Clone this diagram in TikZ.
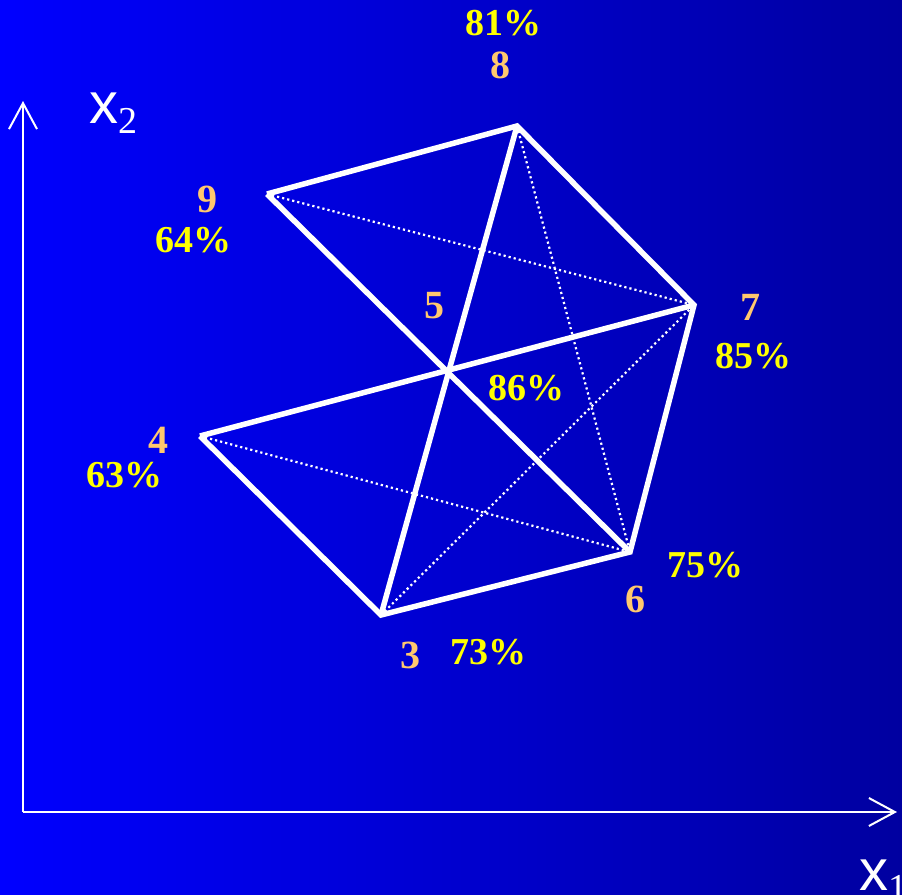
\documentclass[tikz,border=0pt]{standalone}
\usepackage{fontspec}
\setmainfont{Liberation Serif}
\setsansfont{Liberation Sans}
\usetikzlibrary{arrows.meta}
\definecolor{bgL}{RGB}{0,0,255}
\definecolor{bgM}{RGB}{0,0,225}
\definecolor{bgR}{RGB}{0,0,160}
\definecolor{numc}{RGB}{255,200,110}
\definecolor{pctc}{RGB}{255,255,0}
\tikzset{
  numlbl/.style={text=numc,font=\fontsize{40}{40}\selectfont\bfseries,anchor=base,inner sep=0pt},
  pctlbl/.style={text=pctc,font=\fontsize{38}{38}\selectfont\bfseries,anchor=base,inner sep=0pt},
  axislbl/.style={text=white,anchor=base west,inner sep=0pt},
  edge/.style={white,line width=5.5pt,line join=miter},
  diag/.style={white,line width=2.2pt,dash pattern=on 2.2pt off 3pt},
  axisline/.style={white,line width=2pt,-{Straight Barb[length=26pt,width=28pt,line width=2pt]}}
}
\begin{document}
\begin{tikzpicture}[x=1pt,y=-1pt]
\useasboundingbox (0,0) rectangle (902,894);
\shade[shading angle=0,left color=bgL,middle color=bgM,right color=bgR] (0,0) rectangle (902,894);
% axes
\coordinate (O) at (23,812);
\coordinate (ytip) at (23,101);
\coordinate (xtip) at (897,812);
\draw[axisline] (O) -- (ytip);
\draw[axisline] (O) -- (xtip);
\node[axislbl] (x2) at (89,123) {\fontsize{58}{58}\sffamily x\raisebox{-10pt}{\fontsize{38}{38}\rmfamily 2}};
\node[axislbl] (x1) at (859,890) {\fontsize{58}{58}\sffamily x\raisebox{-10pt}{\fontsize{38}{38}\rmfamily 1}};
% vertices
\coordinate (v8) at (517,126);
\coordinate (v9) at (267,194);
\coordinate (v7) at (694,305);
\coordinate (v5) at (447,370);
\coordinate (v4) at (200,436);
\coordinate (v6) at (630,552);
\coordinate (v3) at (381,615);
% dotted diagonals
\draw[diag] (v9) -- (v7);
\draw[diag] (v8) -- (v6);
\draw[diag] (v4) -- (v6);
\draw[diag] (v3) -- (v7);
% solid edges
\draw[edge] (v4) -- (v3) -- (v6) -- (v7) -- (v8) -- (v9);
\draw[edge] (v9) -- (v6);
\draw[edge] (v4) -- (v7);
\draw[edge] (v8) -- (v3);
% labels
\node[pctlbl] (p8) at (503,35) {81\%};
\node[numlbl] (n8) at (500,78) {8};
\node[numlbl] (n9) at (207,212) {9};
\node[pctlbl] (p9) at (193,252) {64\%};
\node[numlbl] (n5) at (434,318) {5};
\node[pctlbl] (p5) at (526,400) {86\%};
\node[numlbl] (n4) at (158,453) {4};
\node[pctlbl] (p4) at (124,487) {63\%};
\node[numlbl] (n3) at (410,668) {3};
\node[pctlbl] (p3) at (488,664) {73\%};
\node[pctlbl] (p6) at (705,577) {75\%};
\node[numlbl] (n6) at (635,612) {6};
\node[numlbl] (n7) at (750,320) {7};
\node[pctlbl] (p7) at (753,368) {85\%};
\end{tikzpicture}
\end{document}
